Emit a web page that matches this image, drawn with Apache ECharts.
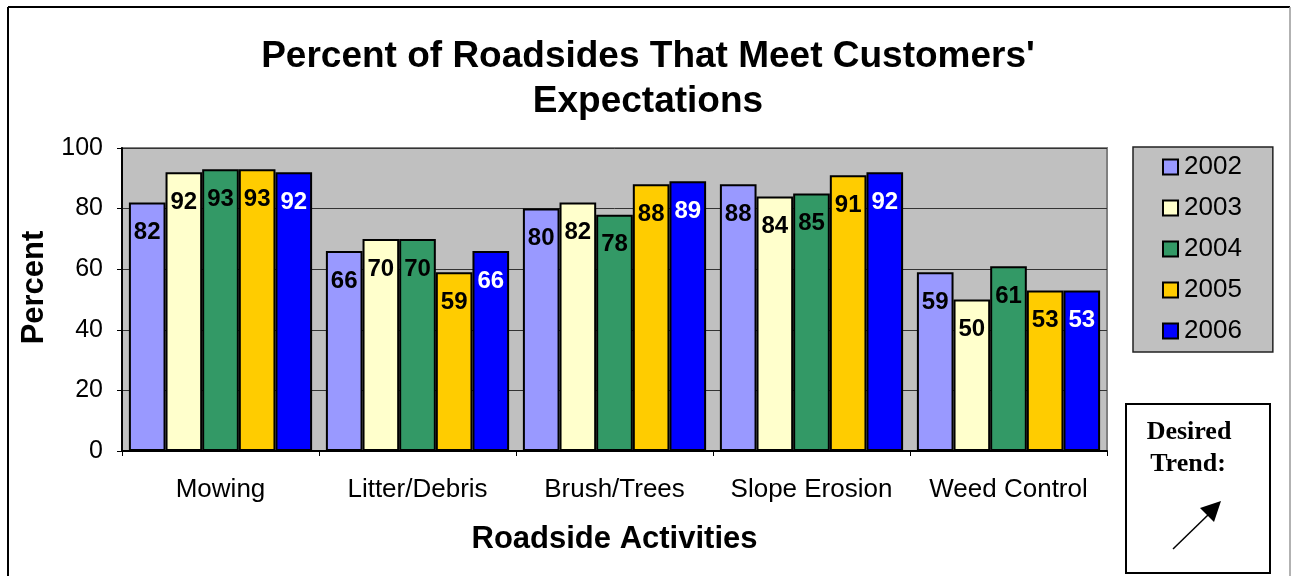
<!DOCTYPE html>
<html>
<head>
<meta charset="utf-8">
<script src="https://cdn.jsdelivr.net/npm/echarts@6/dist/echarts.min.js"></script>
<style>
  html, body { margin: 0; padding: 0; background: #fff; }
  #chart { width: 1291px; height: 576px; }
</style>
</head>
<body>
<div id="chart"></div>
<script>
// Roadside activities and survey years
const categories = ['Mowing', 'Litter/Debris', 'Brush/Trees', 'Slope Erosion', 'Weed Control'];
const years = ['2002', '2003', '2004', '2005', '2006'];

// Percent of roadsides meeting expectations, per year
const values2002 = [82, 66, 80, 88, 59];
const values2003 = [92, 70, 82, 84, 50];
const values2004 = [93, 70, 78, 85, 61];
const values2005 = [93, 59, 88, 91, 53];
const values2006 = [92, 66, 89, 92, 53];

const yTicks = [0, 20, 40, 60, 80, 100];

const seriesValues = [values2002, values2003, values2004, values2005, values2006];
const seriesColors = ['#9999FF', '#FFFFCC', '#339966', '#FFCC00', '#0000FF'];
const labelColors = ['#000', '#000', '#000', '#000', '#fff'];

const FONT = '"Liberation Sans", Arial, sans-serif';
const SERIF = '"Liberation Serif", "Times New Roman", serif';

const chart = echarts.init(document.getElementById('chart'));

chart.setOption({
  backgroundColor: '#fff',
  animation: false,
  title: {
    text: "Percent of Roadsides That Meet Customers'\nExpectations",
    left: 643,
    top: 29,
    textAlign: 'center',
    textStyle: {
      fontFamily: FONT,
      fontSize: 37,
      fontWeight: 'bold',
      color: '#000',
      lineHeight: 45
    }
  },
  legend: {
    data: years,
    orient: 'vertical',
    left: 1133,
    top: 147,
    padding: [7, 31, 8, 29],
    itemGap: 15,
    itemWidth: 15,
    itemHeight: 15,
    icon: 'rect',
    backgroundColor: '#C0C0C0',
    borderColor: '#222',
    borderWidth: 1.5,
    textStyle: { fontFamily: FONT, fontSize: 26, color: '#000', padding: [0, 0, 0, 1] }
  },
  grid: {
    left: 122,
    top: 148,
    right: 184,
    bottom: 125,
    show: true,
    backgroundColor: '#C0C0C0',
    borderColor: '#808080',
    borderWidth: 2
  },
  xAxis: {
    type: 'category',
    data: categories,
    name: 'Roadside Activities',
    nameLocation: 'middle',
    nameGap: 73,
    nameTextStyle: { fontFamily: FONT, fontSize: 31, fontWeight: 'bold', color: '#000' },
    axisLine: { lineStyle: { color: '#000', width: 2 } },
    axisTick: { show: true, length: 5, lineStyle: { color: '#000' } },
    axisLabel: { interval: 0, fontFamily: FONT, fontSize: 26, color: '#000', margin: 26 }
  },
  yAxis: {
    type: 'value',
    min: yTicks[0],
    max: yTicks[yTicks.length - 1],
    interval: 20,
    name: 'Percent',
    nameLocation: 'middle',
    nameGap: 70,
    nameTextStyle: {
      fontFamily: FONT, fontSize: 31, fontWeight: 'bold', color: '#000',
      padding: [0, 0, 0, 24]
    },
    axisLine: { show: true, lineStyle: { color: '#000', width: 2 } },
    axisTick: { show: true, length: 5, lineStyle: { color: '#000' } },
    axisLabel: { fontFamily: FONT, fontSize: 25, color: '#000', margin: 19 },
    splitLine: { show: true, lineStyle: { color: '#333', width: 1 } }
  },
  series: years.map((year, i) => ({
    name: year,
    type: 'bar',
    data: seriesValues[i],
    barGap: '0%',
    barCategoryGap: '7%',
    itemStyle: { color: seriesColors[i], borderColor: '#000', borderWidth: 2 },
    label: {
      show: true,
      position: 'insideTop',
      distance: 18,
      fontFamily: FONT,
      fontSize: 24,
      fontWeight: 'bold',
      color: labelColors[i]
    }
  })),
  graphic: [
    // page frame
    { type: 'line', shape: { x1: 8, y1: 7, x2: 8, y2: 576 }, style: { stroke: '#000', lineWidth: 2 } },
    { type: 'line', shape: { x1: 8, y1: 7, x2: 1290, y2: 7 }, style: { stroke: '#000', lineWidth: 2 } },
    { type: 'line', shape: { x1: 1290, y1: 7, x2: 1290, y2: 576 }, style: { stroke: '#999', lineWidth: 1.5 } },
    // "Desired Trend" box with arrow
    { type: 'rect', shape: { x: 1126, y: 404, width: 144, height: 169 },
      style: { fill: '#fff', stroke: '#000', lineWidth: 2 } },
    { type: 'text', x: 1189, y: 432,
      style: { text: 'Desired', font: 'bold 26px ' + SERIF, fill: '#000', textAlign: 'center', textVerticalAlign: 'middle' } },
    { type: 'text', x: 1188, y: 464,
      style: { text: 'Trend:', font: 'bold 26px ' + SERIF, fill: '#000', textAlign: 'center', textVerticalAlign: 'middle' } },
    { type: 'line', shape: { x1: 1173, y1: 549, x2: 1209, y2: 514 }, style: { stroke: '#000', lineWidth: 1.5 } },
    { type: 'polygon', shape: { points: [[1221, 501], [1200, 508], [1214, 522]] }, style: { fill: '#000' } }
  ]
});
</script>
</body>
</html>
